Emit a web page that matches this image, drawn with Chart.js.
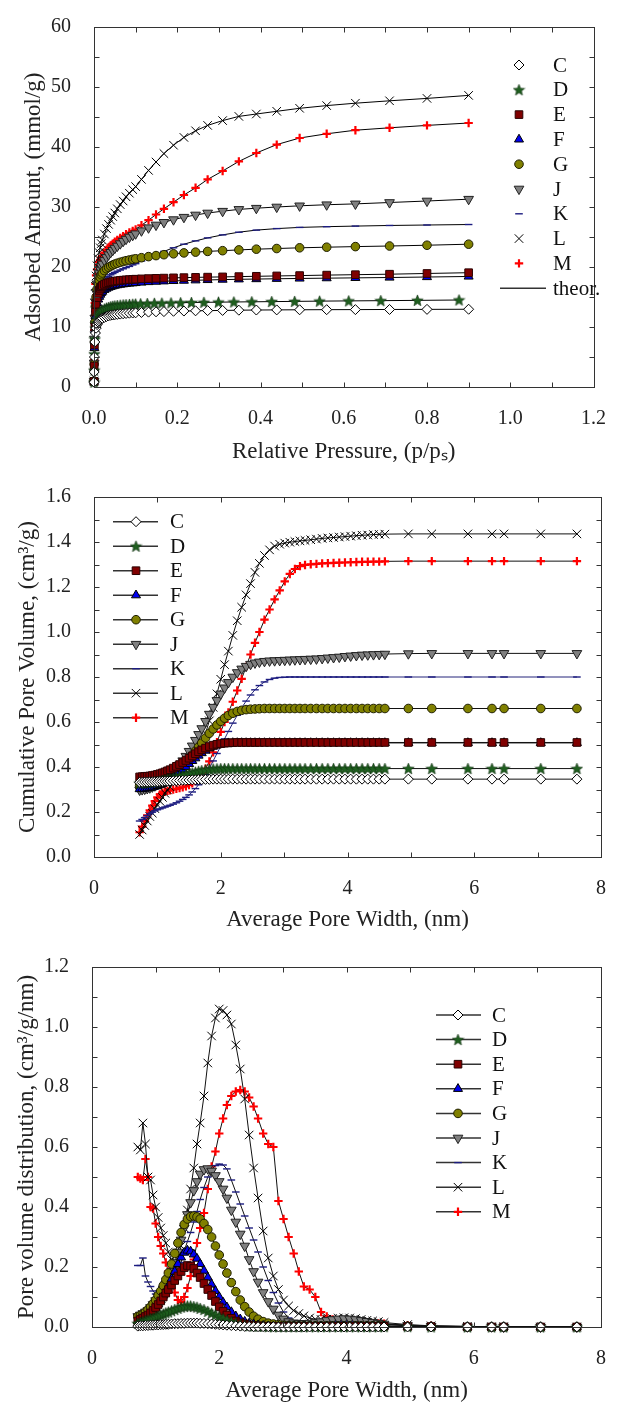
<!DOCTYPE html>
<html>
<head>
<meta charset="utf-8">
<script src="https://cdn.jsdelivr.net/npm/chart.js@4.4.1/dist/chart.umd.min.js"></script>
<style>
  body { margin: 0; background: #fff; }
  .panel { position: absolute; left: 0; }
</style>
</head>
<body>
<div class="panel" style="top:0"><canvas id="iso" width="618" height="470" style="width:618px;height:470px"></canvas></div>
<div class="panel" style="top:470px"><canvas id="cum" width="618" height="470" style="width:618px;height:470px"></canvas></div>
<div class="panel" style="top:940px"><canvas id="psd" width="618" height="465" style="width:618px;height:465px"></canvas></div>
<script>
// ---- data: isotherms (top chart) ----
const SAMPLES = ['C', 'D', 'E', 'F', 'G', 'J', 'K', 'L', 'M'];

const P_ISO = [0.0001, 0.0004, 0.001, 0.002, 0.0035, 0.005, 0.0075, 0.01, 0.0125, 0.015, 0.0175, 0.02,
  0.025, 0.03, 0.035, 0.04, 0.045, 0.05, 0.056, 0.063, 0.07, 0.077, 0.085, 0.093,
  0.1, 0.114, 0.131, 0.149, 0.168, 0.191, 0.216, 0.244, 0.273, 0.309, 0.348, 0.39,
  0.439, 0.494, 0.559, 0.628, 0.71, 0.8, 0.9];
const P_ISO_D = [0.0001, 0.0004, 0.001, 0.002, 0.0035, 0.005, 0.0075, 0.01, 0.0125, 0.015, 0.0175, 0.02,
  0.025, 0.03, 0.035, 0.04, 0.045, 0.05, 0.056, 0.063, 0.07, 0.077, 0.085, 0.093,
  0.1, 0.112, 0.128, 0.145, 0.163, 0.185, 0.208, 0.234, 0.264, 0.299, 0.336, 0.379,
  0.427, 0.482, 0.542, 0.612, 0.689, 0.777, 0.877];

const ISO_C = [0.8, 2.5, 5.0, 7.5, 9.0, 9.8, 10.4, 10.8, 11.0, 11.2, 11.35, 11.45,
  11.6, 11.75, 11.85, 11.95, 12.0, 12.05, 12.1, 12.15, 12.2, 12.25, 12.3, 12.33,
  12.36, 12.42, 12.48, 12.53, 12.57, 12.62, 12.66, 12.7, 12.73, 12.76, 12.8, 12.83,
  12.85, 12.87, 12.89, 12.9, 12.92, 12.94, 12.96];
const ISO_D = [0.8, 2.8, 5.5, 8.0, 9.8, 10.7, 11.4, 11.9, 12.2, 12.45, 12.65, 12.8,
  13.0, 13.15, 13.27, 13.37, 13.45, 13.52, 13.58, 13.64, 13.69, 13.73, 13.77, 13.8,
  13.83, 13.87, 13.91, 13.95, 13.98, 14.02, 14.05, 14.08, 14.11, 14.14, 14.17, 14.2,
  14.23, 14.27, 14.31, 14.35, 14.39, 14.44, 14.5];
const ISO_E = [0.9, 3.5, 7.0, 10.0, 12.5, 13.8, 14.9, 15.6, 16.1, 16.45, 16.7, 16.9,
  17.1, 17.25, 17.38, 17.48, 17.56, 17.63, 17.7, 17.76, 17.81, 17.86, 17.9, 17.94,
  17.97, 18.02, 18.07, 18.11, 18.15, 18.19, 18.23, 18.27, 18.31, 18.35, 18.4, 18.45,
  18.51, 18.57, 18.65, 18.72, 18.8, 18.92, 19.05];
const ISO_F = [0.9, 3.2, 6.5, 9.5, 11.8, 13.0, 14.0, 14.6, 15.05, 15.4, 15.7, 15.9,
  16.2, 16.4, 16.57, 16.7, 16.8, 16.9, 16.98, 17.06, 17.13, 17.19, 17.25, 17.3,
  17.34, 17.42, 17.5, 17.56, 17.62, 17.68, 17.73, 17.79, 17.84, 17.9, 17.95, 17.99,
  18.04, 18.09, 18.14, 18.19, 18.25, 18.33, 18.42];
const ISO_G = [1.0, 3.8, 7.5, 10.8, 13.5, 15.0, 16.3, 17.2, 17.8, 18.3, 18.7, 19.0,
  19.4, 19.7, 19.95, 20.15, 20.33, 20.48, 20.63, 20.78, 20.92, 21.05, 21.17, 21.28,
  21.37, 21.55, 21.73, 21.9, 22.05, 22.2, 22.35, 22.48, 22.6, 22.72, 22.85, 22.97,
  23.08, 23.2, 23.3, 23.4, 23.5, 23.63, 23.8];
const ISO_J = [1.0, 4.0, 8.0, 11.5, 14.2, 15.8, 17.2, 18.2, 19.0, 19.6, 20.1, 20.5,
  21.1, 21.6, 22.05, 22.45, 22.8, 23.15, 23.5, 23.9, 24.3, 24.65, 25.0, 25.3,
  25.55, 26.05, 26.55, 27.0, 27.45, 27.9, 28.3, 28.67, 29.0, 29.3, 29.6, 29.8,
  30.0, 30.2, 30.38, 30.52, 30.75, 31.0, 31.3];
const ISO_K = [0.9, 3.5, 7.0, 10.0, 12.5, 13.8, 15.0, 15.8, 16.4, 16.85, 17.2, 17.5,
  17.9, 18.2, 18.45, 18.7, 18.9, 19.1, 19.3, 19.5, 19.7, 19.9, 20.1, 20.35,
  20.55, 21.0, 21.5, 22.05, 22.6, 23.2, 23.8, 24.35, 24.85, 25.35, 25.8, 26.15,
  26.4, 26.6, 26.72, 26.82, 26.92, 27.0, 27.08];
const ISO_L = [1.0, 5.0, 10.0, 14.0, 16.8, 18.5, 20.2, 21.4, 22.4, 23.2, 23.9, 24.5,
  25.5, 26.4, 27.1, 27.8, 28.4, 29.0, 29.7, 30.4, 31.0, 31.7, 32.3, 32.9,
  33.4, 34.6, 36.1, 37.5, 38.9, 40.3, 41.6, 42.7, 43.6, 44.4, 45.1, 45.5,
  45.95, 46.45, 46.9, 47.3, 47.7, 48.1, 48.6];
const ISO_M = [0.9, 4.5, 9.5, 14.0, 17.2, 18.6, 19.6, 20.3, 20.8, 21.2, 21.55, 21.85,
  22.4, 22.85, 23.25, 23.6, 23.9, 24.2, 24.5, 24.85, 25.15, 25.45, 25.75, 26.0,
  26.25, 26.95, 27.8, 28.75, 29.7, 30.8, 32.0, 33.2, 34.6, 36.0, 37.6, 39.0,
  40.4, 41.5, 42.2, 42.8, 43.2, 43.6, 44.0];

// ---- data: pore widths shared by middle and bottom charts ----
const WIDTH = [0.72, 0.76, 0.80, 0.84, 0.88, 0.92, 0.96, 1.00, 1.04, 1.08, 1.12, 1.16,
  1.20, 1.25, 1.30, 1.35, 1.40, 1.45, 1.50, 1.55, 1.60, 1.65, 1.70, 1.76,
  1.82, 1.88, 1.94, 2.00, 2.06, 2.12, 2.19, 2.26, 2.33, 2.40, 2.47, 2.54,
  2.61, 2.69, 2.77, 2.85, 2.93, 3.01, 3.09, 3.17, 3.25, 3.33, 3.42, 3.51,
  3.60, 3.69, 3.78, 3.87, 3.96, 4.05, 4.14, 4.23, 4.32, 4.41, 4.50, 4.59,
  4.96, 5.33, 5.90, 6.28, 6.47, 7.05, 7.62];

// cumulative pore volume, cm3/g
const CUM_C = [0.332, 0.332, 0.333, 0.333, 0.334, 0.334, 0.335, 0.335, 0.336, 0.336, 0.337, 0.337,
  0.338, 0.339, 0.339, 0.340, 0.341, 0.341, 0.342, 0.343, 0.343, 0.344, 0.344, 0.345,
  0.345, 0.346, 0.346, 0.346, 0.346, 0.346, 0.346, 0.346, 0.346, 0.346, 0.346, 0.346,
  0.346, 0.346, 0.346, 0.346, 0.346, 0.346, 0.346, 0.346, 0.346, 0.346, 0.346, 0.346,
  0.346, 0.346, 0.346, 0.346, 0.346, 0.346, 0.346, 0.346, 0.346, 0.346, 0.346, 0.346,
  0.346, 0.346, 0.346, 0.346, 0.346, 0.346, 0.346];
const CUM_D = [0.328, 0.328, 0.329, 0.330, 0.331, 0.332, 0.334, 0.336, 0.338, 0.340, 0.342, 0.345,
  0.348, 0.351, 0.355, 0.359, 0.363, 0.367, 0.370, 0.374, 0.377, 0.381, 0.384, 0.387,
  0.389, 0.391, 0.392, 0.393, 0.393, 0.393, 0.393, 0.393, 0.393, 0.393, 0.393, 0.393,
  0.393, 0.393, 0.393, 0.393, 0.393, 0.393, 0.393, 0.393, 0.393, 0.393, 0.393, 0.393,
  0.393, 0.393, 0.393, 0.393, 0.393, 0.393, 0.393, 0.393, 0.393, 0.393, 0.393, 0.393,
  0.393, 0.393, 0.393, 0.393, 0.393, 0.393, 0.393];
const CUM_E = [0.356, 0.357, 0.358, 0.359, 0.360, 0.362, 0.364, 0.367, 0.370, 0.374, 0.378, 0.383,
  0.388, 0.395, 0.403, 0.411, 0.420, 0.429, 0.439, 0.449, 0.459, 0.468, 0.476, 0.484,
  0.491, 0.497, 0.501, 0.504, 0.506, 0.507, 0.508, 0.509, 0.509, 0.509, 0.509, 0.509,
  0.509, 0.509, 0.509, 0.509, 0.509, 0.509, 0.509, 0.509, 0.509, 0.509, 0.509, 0.509,
  0.509, 0.509, 0.509, 0.509, 0.509, 0.509, 0.509, 0.509, 0.509, 0.509, 0.509, 0.509,
  0.509, 0.509, 0.509, 0.509, 0.509, 0.509, 0.509];
const CUM_F = [0.302, 0.303, 0.304, 0.306, 0.308, 0.310, 0.313, 0.316, 0.320, 0.325, 0.330, 0.336,
  0.343, 0.353, 0.364, 0.376, 0.389, 0.401, 0.414, 0.427, 0.439, 0.451, 0.462, 0.473,
  0.483, 0.491, 0.497, 0.501, 0.504, 0.506, 0.507, 0.507, 0.507, 0.507, 0.507, 0.507,
  0.507, 0.507, 0.507, 0.507, 0.507, 0.507, 0.507, 0.507, 0.507, 0.507, 0.507, 0.507,
  0.507, 0.507, 0.507, 0.507, 0.507, 0.507, 0.507, 0.507, 0.507, 0.507, 0.507, 0.507,
  0.507, 0.507, 0.507, 0.507, 0.507, 0.507, 0.507];
const CUM_G = [0.318, 0.319, 0.320, 0.321, 0.322, 0.324, 0.326, 0.329, 0.333, 0.337, 0.342, 0.348,
  0.355, 0.365, 0.376, 0.389, 0.403, 0.418, 0.435, 0.453, 0.471, 0.489, 0.507, 0.529,
  0.550, 0.569, 0.587, 0.603, 0.617, 0.629, 0.639, 0.647, 0.652, 0.655, 0.657, 0.658,
  0.659, 0.660, 0.660, 0.660, 0.660, 0.660, 0.660, 0.660, 0.660, 0.660, 0.660, 0.660,
  0.660, 0.660, 0.660, 0.660, 0.660, 0.660, 0.660, 0.660, 0.660, 0.660, 0.660, 0.660,
  0.660, 0.660, 0.660, 0.660, 0.660, 0.660, 0.660];
const CUM_J = [0.298, 0.300, 0.302, 0.305, 0.308, 0.312, 0.317, 0.323, 0.330, 0.337, 0.345, 0.354,
  0.364, 0.378, 0.393, 0.410, 0.428, 0.448, 0.470, 0.494, 0.519, 0.545, 0.571, 0.603,
  0.635, 0.666, 0.696, 0.725, 0.752, 0.776, 0.800, 0.820, 0.836, 0.848, 0.857, 0.863,
  0.867, 0.870, 0.872, 0.873, 0.874, 0.875, 0.876, 0.877, 0.878, 0.879, 0.880, 0.881,
  0.883, 0.885, 0.887, 0.889, 0.892, 0.894, 0.896, 0.898, 0.899, 0.900, 0.901, 0.902,
  0.904, 0.905, 0.905, 0.905, 0.905, 0.905, 0.905];
const CUM_K = [0.160, 0.167, 0.175, 0.184, 0.192, 0.199, 0.205, 0.210, 0.214, 0.218, 0.222, 0.226,
  0.230, 0.235, 0.241, 0.248, 0.256, 0.265, 0.276, 0.289, 0.304, 0.321, 0.340, 0.366,
  0.395, 0.427, 0.460, 0.492, 0.525, 0.558, 0.595, 0.630, 0.663, 0.693, 0.720, 0.743,
  0.762, 0.778, 0.789, 0.795, 0.798, 0.799, 0.800, 0.800, 0.800, 0.800, 0.800, 0.800,
  0.800, 0.800, 0.800, 0.800, 0.800, 0.800, 0.800, 0.800, 0.800, 0.800, 0.800, 0.800,
  0.800, 0.800, 0.800, 0.800, 0.800, 0.800, 0.800];
const CUM_L = [0.100, 0.120, 0.140, 0.160, 0.180, 0.195, 0.215, 0.232, 0.248, 0.265, 0.283, 0.298,
  0.312, 0.330, 0.347, 0.364, 0.382, 0.400, 0.420, 0.440, 0.460, 0.483, 0.510, 0.550,
  0.605, 0.665, 0.725, 0.790, 0.855, 0.915, 0.985, 1.050, 1.110, 1.165, 1.215, 1.265,
  1.305, 1.340, 1.365, 1.382, 1.390, 1.395, 1.399, 1.402, 1.405, 1.407, 1.410, 1.413,
  1.416, 1.418, 1.420, 1.422, 1.424, 1.426, 1.428, 1.430, 1.431, 1.433, 1.434, 1.435,
  1.436, 1.436, 1.436, 1.436, 1.436, 1.436, 1.436];
const CUM_M = [0.110, 0.135, 0.160, 0.185, 0.207, 0.228, 0.248, 0.265, 0.278, 0.286, 0.290, 0.294,
  0.297, 0.300, 0.303, 0.306, 0.310, 0.314, 0.320, 0.328, 0.338, 0.350, 0.367, 0.392,
  0.425, 0.465, 0.510, 0.556, 0.600, 0.642, 0.690, 0.740, 0.792, 0.845, 0.900, 0.952,
  1.000, 1.055, 1.100, 1.145, 1.185, 1.225, 1.258, 1.280, 1.293, 1.298, 1.301, 1.303,
  1.305, 1.306, 1.307, 1.308, 1.309, 1.310, 1.311, 1.312, 1.312, 1.313, 1.313, 1.314,
  1.315, 1.315, 1.315, 1.315, 1.315, 1.315, 1.315];

// pore volume distribution, cm3/g/nm
const PSD_C = [0.003, 0.004, 0.004, 0.005, 0.005, 0.006, 0.006, 0.007, 0.007, 0.008, 0.008, 0.009,
  0.009, 0.010, 0.011, 0.011, 0.012, 0.012, 0.013, 0.013, 0.013, 0.013, 0.012, 0.012,
  0.011, 0.010, 0.009, 0.008, 0.007, 0.006, 0.005, 0.004, 0.003, 0.002, 0.002, 0.001,
  0.001, 0.001, 0.001, 0.001, 0, 0, 0, 0, 0, 0, 0, 0,
  0, 0, 0, 0, 0, 0, 0, 0, 0, 0, 0, 0,
  0, 0, 0, 0, 0, 0, 0];
const PSD_D = [0.012, 0.015, 0.018, 0.021, 0.024, 0.027, 0.030, 0.033, 0.036, 0.040, 0.043, 0.047,
  0.050, 0.054, 0.058, 0.062, 0.066, 0.068, 0.070, 0.070, 0.068, 0.066, 0.062, 0.058,
  0.052, 0.046, 0.040, 0.034, 0.028, 0.023, 0.018, 0.013, 0.009, 0.006, 0.004, 0.003,
  0.002, 0.002, 0.001, 0.001, 0.001, 0.001, 0.001, 0.001, 0.001, 0.001, 0.001, 0.001,
  0.001, 0.001, 0.001, 0.001, 0.001, 0.001, 0.001, 0.001, 0.001, 0.001, 0.001, 0.001,
  0.001, 0, 0, 0, 0, 0, 0];
const PSD_E = [0.020, 0.025, 0.030, 0.035, 0.040, 0.047, 0.055, 0.065, 0.075, 0.087, 0.100, 0.113,
  0.125, 0.140, 0.155, 0.170, 0.185, 0.198, 0.205, 0.203, 0.195, 0.180, 0.165, 0.145,
  0.125, 0.105, 0.085, 0.067, 0.052, 0.040, 0.029, 0.020, 0.014, 0.010, 0.007, 0.005,
  0.004, 0.003, 0.002, 0.002, 0.002, 0.002, 0.002, 0.002, 0.002, 0.002, 0.002, 0.002,
  0.002, 0.002, 0.002, 0.002, 0.002, 0.002, 0.002, 0.002, 0.002, 0.002, 0.002, 0.002,
  0.001, 0.001, 0, 0, 0, 0, 0];
const PSD_F = [0.020, 0.024, 0.028, 0.033, 0.039, 0.046, 0.055, 0.065, 0.077, 0.090, 0.105, 0.120,
  0.137, 0.160, 0.185, 0.210, 0.232, 0.248, 0.255, 0.252, 0.242, 0.228, 0.210, 0.188,
  0.165, 0.142, 0.120, 0.100, 0.082, 0.066, 0.050, 0.036, 0.026, 0.018, 0.012, 0.009,
  0.006, 0.004, 0.003, 0.002, 0.002, 0.002, 0.002, 0.002, 0.002, 0.002, 0.002, 0.002,
  0.002, 0.002, 0.002, 0.002, 0.002, 0.002, 0.002, 0.002, 0.002, 0.002, 0.002, 0.002,
  0.001, 0.001, 0, 0, 0, 0, 0];
const PSD_G = [0.035, 0.038, 0.042, 0.050, 0.058, 0.067, 0.078, 0.090, 0.105, 0.120, 0.138, 0.158,
  0.180, 0.210, 0.245, 0.280, 0.315, 0.342, 0.360, 0.368, 0.370, 0.367, 0.360, 0.345,
  0.325, 0.300, 0.270, 0.240, 0.210, 0.180, 0.148, 0.118, 0.090, 0.068, 0.050, 0.036,
  0.026, 0.018, 0.013, 0.010, 0.008, 0.006, 0.005, 0.004, 0.004, 0.004, 0.004, 0.004,
  0.004, 0.004, 0.004, 0.004, 0.004, 0.004, 0.004, 0.004, 0.004, 0.004, 0.004, 0.004,
  0.002, 0.001, 0, 0, 0, 0, 0];
const PSD_J = [0.035, 0.040, 0.045, 0.050, 0.055, 0.065, 0.075, 0.088, 0.100, 0.113, 0.127, 0.142,
  0.160, 0.185, 0.215, 0.250, 0.290, 0.330, 0.375, 0.415, 0.455, 0.485, 0.510, 0.525,
  0.528, 0.520, 0.505, 0.485, 0.460, 0.430, 0.390, 0.350, 0.310, 0.270, 0.225, 0.185,
  0.150, 0.115, 0.085, 0.060, 0.040, 0.027, 0.018, 0.014, 0.012, 0.012, 0.013, 0.015,
  0.018, 0.022, 0.025, 0.027, 0.028, 0.027, 0.025, 0.022, 0.019, 0.016, 0.013, 0.010,
  0.005, 0.003, 0.001, 0.001, 0, 0, 0];
const PSD_K = [0.205, 0.205, 0.230, 0.170, 0.150, 0.135, 0.120, 0.110, 0.100, 0.098, 0.100, 0.105,
  0.115, 0.130, 0.150, 0.180, 0.215, 0.255, 0.285, 0.315, 0.350, 0.385, 0.425, 0.465,
  0.500, 0.525, 0.538, 0.543, 0.540, 0.527, 0.490, 0.450, 0.410, 0.370, 0.330, 0.290,
  0.250, 0.200, 0.155, 0.115, 0.080, 0.050, 0.030, 0.018, 0.012, 0.010, 0.010, 0.012,
  0.015, 0.017, 0.019, 0.020, 0.020, 0.020, 0.018, 0.016, 0.014, 0.012, 0.010, 0.008,
  0.004, 0.002, 0.001, 0, 0, 0, 0];
const PSD_L = [0.600, 0.590, 0.680, 0.610, 0.500, 0.490, 0.440, 0.400, 0.365, 0.330, 0.305, 0.280,
  0.250, 0.225, 0.215, 0.225, 0.270, 0.330, 0.390, 0.460, 0.530, 0.610, 0.680, 0.770,
  0.880, 0.970, 1.030, 1.060, 1.055, 1.040, 1.010, 0.940, 0.860, 0.760, 0.640, 0.530,
  0.430, 0.320, 0.230, 0.170, 0.125, 0.090, 0.070, 0.055, 0.045, 0.037, 0.030, 0.026,
  0.025, 0.026, 0.028, 0.030, 0.031, 0.030, 0.028, 0.025, 0.022, 0.020, 0.018, 0.015,
  0.008, 0.004, 0.002, 0.001, 0.001, 0, 0];
const PSD_M = [0.500, 0.495, 0.490, 0.560, 0.500, 0.400, 0.395, 0.345, 0.300, 0.270, 0.245, 0.215,
  0.185, 0.150, 0.115, 0.090, 0.083, 0.100, 0.130, 0.170, 0.225, 0.280, 0.330, 0.380,
  0.460, 0.535, 0.585, 0.645, 0.695, 0.740, 0.770, 0.785, 0.790, 0.785, 0.765, 0.735,
  0.695, 0.645, 0.610, 0.600, 0.420, 0.360, 0.300, 0.245, 0.185, 0.135, 0.125, 0.100,
  0.050, 0.035, 0.025, 0.018, 0.015, 0.014, 0.013, 0.013, 0.012, 0.012, 0.012, 0.011,
  0.006, 0.004, 0.002, 0.001, 0.001, 0, 0];

const ISO = { C: ISO_C, D: ISO_D, E: ISO_E, F: ISO_F, G: ISO_G, J: ISO_J, K: ISO_K, L: ISO_L, M: ISO_M };
const CUM = { C: CUM_C, D: CUM_D, E: CUM_E, F: CUM_F, G: CUM_G, J: CUM_J, K: CUM_K, L: CUM_L, M: CUM_M };
const PSD = { C: PSD_C, D: PSD_D, E: PSD_E, F: PSD_F, G: PSD_G, J: PSD_J, K: PSD_K, L: PSD_L, M: PSD_M };

// ---- marker styles ----
function makeStar() {
  const c = document.createElement('canvas');
  c.width = 13; c.height = 13;
  const g = c.getContext('2d');
  g.beginPath();
  for (let i = 0; i < 10; i++) {
    const r = i % 2 === 0 ? 6 : 2.6;
    const a = -Math.PI / 2 + i * Math.PI / 5;
    const px = 6.5 + r * Math.cos(a), py = 7 + r * Math.sin(a);
    if (i === 0) g.moveTo(px, py); else g.lineTo(px, py);
  }
  g.closePath();
  g.fillStyle = '#1f5f1f';
  g.fill();
  g.lineWidth = 0.6;
  g.strokeStyle = '#0b2a0b';
  g.stroke();
  return c;
}
const STAR = makeStar();

const MARKS = {
  C: { pointStyle: 'rectRot', radius: 5, bg: '#ffffff', border: '#000000', bw: 1 },
  D: { pointStyle: STAR, radius: 5, bg: '#1f5f1f', border: '#0b2a0b', bw: 1 },
  E: { pointStyle: 'rect', radius: 5.4, bg: '#800000', border: '#2a0000', bw: 1 },
  F: { pointStyle: 'triangle', radius: 5.2, bg: '#0000ee', border: '#000000', bw: 1 },
  G: { pointStyle: 'circle', radius: 4.3, bg: '#808000', border: '#1e1e00', bw: 1 },
  J: { pointStyle: 'triangle', rotation: 180, radius: 5.6, bg: '#808080', border: '#202020', bw: 1 },
  K: { pointStyle: 'line', radius: 3.8, bg: '#1c1c80', border: '#1c1c80', bw: 1.4 },
  L: { pointStyle: 'crossRot', radius: 6, bg: '#000000', border: '#000000', bw: 1 },
  M: { pointStyle: 'cross', radius: 4.2, bg: '#ff0000', border: '#ff0000', bw: 2.2 }
};

function series(name, xs, ys, lineColor) {
  const m = MARKS[name];
  return {
    label: name,
    data: xs.map((x, i) => ({ x: x, y: ys[i] })),
    showLine: true,
    borderColor: lineColor,
    borderWidth: 1,
    pointStyle: m.pointStyle,
    pointRadius: m.radius,
    pointHoverRadius: m.radius,
    pointRotation: m.rotation || 0,
    pointBackgroundColor: m.bg,
    pointBorderColor: m.border,
    pointBorderWidth: m.bw,
    tension: 0,
    clip: false
  };
}

// ---- plugins: boxed frame with inward ticks, legend inside the plot ----
const framePlugin = {
  id: 'frame',
  afterDatasetsDraw(chart) {
    const { ctx, chartArea: a, scales } = chart;
    const l = Math.round(a.left) + 0.5, r = Math.round(a.right) + 0.5;
    const t = Math.round(a.top) + 0.5, b = Math.round(a.bottom) + 0.5;
    const len = 5;
    ctx.save();
    ctx.strokeStyle = '#333';
    ctx.lineWidth = 1;
    ctx.strokeRect(l, t, r - l, b - t);
    ctx.beginPath();
    scales.x.ticks.forEach(tk => {
      const px = Math.round(scales.x.getPixelForValue(tk.value)) + 0.5;
      ctx.moveTo(px, b); ctx.lineTo(px, b - len);
      ctx.moveTo(px, t); ctx.lineTo(px, t + len);
    });
    scales.y.ticks.forEach(tk => {
      const py = Math.round(scales.y.getPixelForValue(tk.value)) + 0.5;
      ctx.moveTo(l, py); ctx.lineTo(l + len, py);
      ctx.moveTo(r, py); ctx.lineTo(r - len, py);
    });
    ctx.stroke();
    ctx.restore();
  }
};

function legendLine(ctx, x0, x1, y) {
  ctx.strokeStyle = '#333';
  ctx.lineWidth = 1.5;
  ctx.beginPath();
  ctx.moveTo(x0, y);
  ctx.lineTo(x1, y);
  ctx.stroke();
}

const legendPlugin = {
  id: 'sampleLegend',
  afterDraw(chart, args, opts) {
    const { ctx } = chart;
    ctx.save();
    ctx.font = '21px "Liberation Serif"';
    ctx.textBaseline = 'middle';
    ctx.textAlign = 'left';
    const sets = chart.data.datasets;
    sets.forEach((ds, i) => {
      const y = opts.top + i * opts.step;
      if (opts.withLine) legendLine(ctx, opts.lineFrom, opts.lineTo, y);
      ctx.fillStyle = ds.pointBackgroundColor;
      ctx.strokeStyle = ds.pointBorderColor;
      ctx.lineWidth = ds.pointBorderWidth;
      Chart.helpers.drawPoint(ctx, {
        pointStyle: ds.pointStyle, rotation: ds.pointRotation,
        radius: ds.pointRadius, borderWidth: ds.pointBorderWidth
      }, opts.markX, y);
      ctx.fillStyle = '#111';
      ctx.fillText(ds.label, opts.textX, y + 1);
    });
    if (opts.extraLabel) {
      const y = opts.top + sets.length * opts.step;
      legendLine(ctx, opts.lineFrom, opts.lineTo, y);
      ctx.fillStyle = '#111';
      ctx.fillText(opts.extraLabel, opts.textX, y + 1);
    }
    ctx.restore();
  }
};

const FONT = 'Liberation Serif';

function axes(cfg) {
  return {
    x: {
      type: 'linear', min: cfg.xMin, max: cfg.xMax,
      afterFit: s => { s.height = cfg.xHeight; },
      grid: { display: false }, border: { display: false },
      ticks: {
        stepSize: cfg.xStep, autoSkip: false, maxRotation: 0, padding: 12,
        color: '#222', font: { family: FONT, size: 20 },
        callback: cfg.xLabel
      },
      title: {
        display: true, text: cfg.xTitle, color: '#222',
        font: { family: FONT, size: 23 }, padding: { top: 0, bottom: cfg.xTitlePad }
      }
    },
    y: {
      type: 'linear', min: cfg.yMin, max: cfg.yMax,
      afterFit: s => { s.width = cfg.yWidth; },
      grid: { display: false }, border: { display: false },
      ticks: {
        stepSize: cfg.yStep, autoSkip: false, padding: 15,
        color: '#222', font: { family: FONT, size: 20 },
        callback: cfg.yLabel
      },
      title: {
        display: true, text: cfg.yTitle, color: '#222',
        font: { family: FONT, size: 23 }, padding: { top: cfg.yTitlePad, bottom: 0 }
      }
    }
  };
}

const evenTenth = v => (Math.round(v * 10) % 2 === 0 ? v.toFixed(1) : '');
const evenInt = v => (Math.round(v) % 2 === 0 ? String(Math.round(v)) : '');

// ---- top: isotherms ----
const isoSets = SAMPLES.map(s => series(s, s === 'D' ? P_ISO_D : P_ISO, ISO[s], '#000'));
new Chart(document.getElementById('iso'), {
  type: 'scatter',
  data: { datasets: isoSets },
  plugins: [framePlugin, legendPlugin],
  options: {
    responsive: false, animation: false, events: [],
    layout: { padding: { top: 22, right: 11, left: 0, bottom: 0 } },
    scales: axes({
      xMin: 0, xMax: 1.2, xStep: 0.1, xLabel: evenTenth, xHeight: 83, xTitlePad: 4,
      xTitle: 'Relative Pressure, (p/pₛ)',
      yMin: 0, yMax: 60, yStep: 5, yLabel: v => (v % 10 === 0 ? String(v) : ''), yWidth: 94, yTitlePad: 20,
      yTitle: 'Adsorbed Amount, (mmol/g)'
    }),
    plugins: {
      legend: { display: false }, tooltip: { enabled: false },
      sampleLegend: { top: 65, step: 24.8, markX: 519, textX: 553, withLine: false, extraLabel: 'theor.', lineFrom: 500, lineTo: 546 }
    }
  }
});

// ---- middle: cumulative pore volume ----
new Chart(document.getElementById('cum'), {
  type: 'scatter',
  data: { datasets: SAMPLES.map(s => series(s, WIDTH, CUM[s], s === 'K' ? '#24247a' : '#111')) },
  plugins: [framePlugin, legendPlugin],
  options: {
    responsive: false, animation: false, events: [],
    layout: { padding: { top: 20, right: 11, left: 0, bottom: 0 } },
    scales: axes({
      xMin: 0, xMax: 8, xStep: 1, xLabel: evenInt, xHeight: 83, xTitlePad: 6,
      xTitle: 'Average Pore Width, (nm)',
      yMin: 0, yMax: 1.6, yStep: 0.1, yLabel: evenTenth, yWidth: 94, yTitlePad: 14,
      yTitle: 'Cumulative Pore Volume, (cm³/g)'
    }),
    plugins: {
      legend: { display: false }, tooltip: { enabled: false },
      sampleLegend: { top: 51.7, step: 24.5, markX: 136, textX: 170, withLine: true, lineFrom: 113, lineTo: 158 }
    }
  }
});

// ---- bottom: pore volume distribution ----
new Chart(document.getElementById('psd'), {
  type: 'scatter',
  data: { datasets: SAMPLES.map(s => series(s, WIDTH, PSD[s], '#111')) },
  plugins: [framePlugin, legendPlugin],
  options: {
    responsive: false, animation: false, events: [],
    layout: { padding: { top: 22, right: 12, left: 0, bottom: 0 } },
    scales: axes({
      xMin: 0, xMax: 8, xStep: 1, xLabel: evenInt, xHeight: 78, xTitlePad: 0,
      xTitle: 'Average Pore Width, (nm)',
      yMin: 0, yMax: 1.2, yStep: 0.1, yLabel: evenTenth, yWidth: 92, yTitlePad: 13,
      yTitle: 'Pore volume distribution, (cm³/g/nm)'
    }),
    plugins: {
      legend: { display: false }, tooltip: { enabled: false },
      sampleLegend: { top: 75, step: 24.6, markX: 458, textX: 492, withLine: true, lineFrom: 436, lineTo: 481 }
    }
  }
});
</script>
</body>
</html>
